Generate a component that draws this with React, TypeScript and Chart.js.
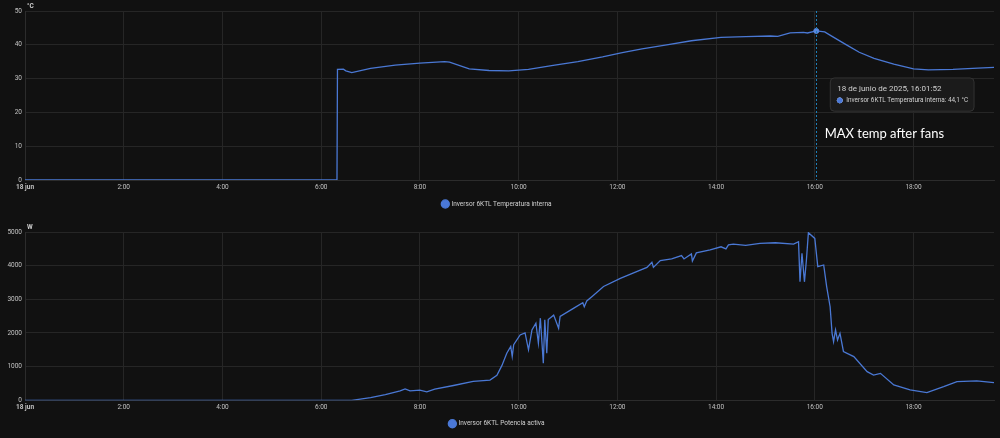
import React, { useEffect, useRef } from 'react';
import { Chart, registerables, Tooltip } from 'chart.js';

Chart.register(...registerables);

// ---------- data ----------
const tempHours = [0, 6.32, 6.33, 6.45, 6.5, 6.62, 7.0, 7.5, 8.0, 8.5, 8.6, 9.0, 9.4, 9.8, 10.2, 10.7, 11.2, 11.7, 12.1, 12.5, 13.0, 13.5, 14.1, 14.6, 15.1, 15.25, 15.5, 15.77, 15.85, 16.03, 16.2, 16.35, 16.65, 16.9, 17.2, 17.6, 18.0, 18.3, 18.8, 19.3, 19.63];
const tempValues = [0, 0, 32.7, 32.8, 32.3, 31.8, 33.0, 34.0, 34.6, 35.0, 34.9, 32.9, 32.4, 32.3, 32.7, 33.9, 35.0, 36.4, 37.7, 38.8, 40.0, 41.2, 42.2, 42.4, 42.6, 42.5, 43.5, 43.7, 43.5, 44.1, 43.8, 42.5, 39.9, 37.8, 36.0, 34.3, 32.9, 32.6, 32.7, 33.1, 33.3];

const powerHours = [0, 6.62, 7.0, 7.3, 7.6, 7.7, 7.8, 8.0, 8.14, 8.3, 8.68, 9.08, 9.42, 9.56, 9.66, 9.76, 9.84, 9.87, 9.9, 10.03, 10.13, 10.2, 10.27, 10.35, 10.4, 10.44, 10.5, 10.53, 10.57, 10.6, 10.71, 10.81, 10.84, 11.11, 11.3, 11.33, 11.38, 11.5, 11.72, 12.06, 12.39, 12.6, 12.7, 12.73, 12.87, 13.1, 13.3, 13.35, 13.5, 13.52, 13.6, 13.88, 14.1, 14.2, 14.25, 14.35, 14.6, 14.89, 15.2, 15.57, 15.67, 15.7, 15.74, 15.79, 15.83, 15.87, 16.0, 16.06, 16.18, 16.24, 16.31, 16.35, 16.38, 16.42, 16.46, 16.51, 16.58, 16.79, 17.06, 17.19, 17.33, 17.6, 17.93, 18.27, 18.61, 18.88, 19.28, 19.63];
const powerValues = [0, 0, 80, 170, 280, 340, 280, 300, 250, 330, 440, 560, 600, 740, 1030, 1400, 1600, 1300, 1650, 1940, 2000, 1500, 2090, 2290, 1700, 2440, 1100, 2390, 1400, 2400, 2530, 2140, 2490, 2730, 2900, 2780, 2950, 3100, 3380, 3620, 3820, 3950, 4100, 3950, 4150, 4200, 4300, 4200, 4350, 4140, 4380, 4470, 4560, 4500, 4620, 4640, 4600, 4660, 4680, 4640, 4710, 3520, 4370, 3520, 4170, 4980, 4810, 3970, 4020, 3380, 2780, 1990, 1740, 2090, 1790, 1990, 1450, 1300, 850, 750, 800, 455, 310, 230, 405, 555, 575, 525];

const xTickHours = [0, 2, 4, 6, 8, 10, 12, 14, 16, 18];
const firstTickLabel = '18 jun';
const tempLabel = 'Inversor 6KTL Temperatura interna';
const powerLabel = 'Inversor 6KTL Potencia activa';
const tooltipTitle = '18 de junio de 2025, 16:01:52';
const tooltipBody = 'Inversor 6KTL Temperatura interna: 44,1 °C';
const tooltipHour = 16.03;
const annotationText = 'MAX temp after fans';
const X_MAX = 19.63;

// ---------- style ----------
const FONT = 'Roboto, "Noto Sans", sans-serif';
const BG = '#111111';
const GRID = '#262626';
const LINE = '#4a78d4';
const TICK = '#c2c2c2';
const SMALL = 6.5;

(Tooltip.positioners as any).belowRight = function (elements: any[]) {
  if (!elements || !elements.length) return false;
  const el = elements[0].element;
  return { x: el.x + 18, y: el.y + 47 };
};

const unitPlugin = {
  id: 'unitLabel',
  afterDraw(chart: any, _args: any, opts: any) {
    if (!opts || !opts.text) return;
    const { ctx, chartArea } = chart;
    ctx.save();
    ctx.font = `bold ${SMALL}px ${FONT}`;
    ctx.fillStyle = '#d0d0d0';
    ctx.textAlign = 'left';
    ctx.textBaseline = 'middle';
    ctx.fillText(opts.text, chartArea.left + 2, chartArea.top - 5);
    ctx.restore();
  },
};

const crosshairPlugin = {
  id: 'crosshair',
  afterDatasetsDraw(chart: any) {
    const active = chart.tooltip ? chart.tooltip.getActiveElements() : [];
    if (!active.length) return;
    const x = active[0].element.x;
    const { ctx, chartArea } = chart;
    ctx.save();
    ctx.strokeStyle = '#1f7fb8';
    ctx.lineWidth = 1;
    ctx.setLineDash([2, 2]);
    ctx.beginPath();
    ctx.moveTo(Math.round(x) + 0.5, chartArea.top);
    ctx.lineTo(Math.round(x) + 0.5, chartArea.bottom);
    ctx.stroke();
    ctx.restore();
  },
};

const annotationPlugin = {
  id: 'noteText',
  afterDraw(chart: any, _args: any, opts: any) {
    if (!opts || !opts.text) return;
    const { ctx } = chart;
    const x = chart.scales.x.getPixelForValue(opts.hour);
    const y = chart.scales.y.getPixelForValue(opts.value);
    ctx.save();
    ctx.font = `13px Lato, "Open Sans", sans-serif`;
    ctx.fillStyle = '#ffffff';
    ctx.textAlign = 'left';
    ctx.textBaseline = 'alphabetic';
    ctx.fillText(opts.text, x, y);
    ctx.restore();
  },
};

function makeOptions(yMax: number, yStep: number, padTop: number, xHeight: number, legendPad: number, padBottom: number, unit: string, note: any, withTooltip: boolean) {
  return {
    animation: false,
    responsive: false,
    events: [],
    layout: { padding: { top: padTop, right: 6, left: 0, bottom: padBottom } },
    interaction: { mode: 'nearest', intersect: false },
    scales: {
      x: {
        type: 'linear',
        min: 0,
        max: X_MAX,
        afterBuildTicks(scale: any) {
          scale.ticks = xTickHours.map((v) => ({ value: v }));
        },
        afterFit(scale: any) {
          scale.height = xHeight;
        },
        ticks: {
          autoSkip: false,
          maxRotation: 0,
          color: TICK,
          padding: 3,
          font: (c: any) => ({ family: FONT, size: SMALL, weight: c.tick && c.tick.value === 0 ? 'bold' : 'normal' }),
          callback: (v: any) => (v === 0 ? firstTickLabel : `${v}:00`),
        },
        grid: { color: GRID, drawTicks: false },
        border: { color: '#2c2c2c' },
      },
      y: {
        min: 0,
        max: yMax,
        afterFit(scale: any) {
          scale.width = 25;
        },
        ticks: {
          stepSize: yStep,
          color: TICK,
          padding: 3,
          font: { family: FONT, size: SMALL },
          callback: (v: any) => String(v),
        },
        grid: { color: GRID, drawTicks: false },
        border: { color: '#2c2c2c' },
      },
    },
    plugins: {
      legend: {
        position: 'bottom',
        labels: {
          usePointStyle: true,
          pointStyle: 'circle',
          boxWidth: 5.7,
          boxHeight: 5.7,
          padding: legendPad,
          color: '#d0d0d0',
          font: { family: FONT, size: SMALL },
        },
      },
      tooltip: withTooltip
        ? {
            enabled: true,
            position: 'belowRight',
            xAlign: 'left',
            yAlign: 'top',
            caretSize: 0,
            caretPadding: 0,
            cornerRadius: 4,
            backgroundColor: 'rgba(28,28,28,0.97)',
            borderColor: '#333333',
            borderWidth: 1,
            padding: { left: 7, right: 6, top: 6, bottom: 7 },
            titleColor: '#d0d0d0',
            bodyColor: '#d0d0d0',
            titleFont: { family: FONT, size: 8, weight: 'normal' },
            bodyFont: { family: FONT, size: 6.4 },
            titleMarginBottom: 3,
            usePointStyle: true,
            boxWidth: 5,
            boxHeight: 5,
            boxPadding: 2,
            callbacks: {
              title: () => tooltipTitle,
              label: () => tooltipBody,
              labelColor: () => ({ borderColor: '#4a78d8', backgroundColor: '#4a78d8' }),
              labelPointStyle: () => ({ pointStyle: 'circle', rotation: 0 }),
            },
          }
        : { enabled: false },
      unitLabel: { text: unit },
      noteText: note,
    },
  } as any;
}

function buildPoints(xs: number[], ys: number[]) {
  return xs.map((x, i) => ({ x, y: ys[i] }));
}

function dataset(label: string, xs: number[], ys: number[]) {
  return {
    label,
    data: buildPoints(xs, ys),
    borderColor: LINE,
    backgroundColor: '#4a78d8',
    borderWidth: 1.3,
    pointRadius: 0,
    pointHoverRadius: 2.5,
    pointHoverBackgroundColor: '#5a88e0',
    pointHoverBorderColor: '#5a88e0',
    tension: 0,
    fill: false,
  };
}

export default function App() {
  const topRef = useRef<HTMLCanvasElement>(null);
  const botRef = useRef<HTMLCanvasElement>(null);

  useEffect(() => {
    const top = new Chart(topRef.current as HTMLCanvasElement, {
      type: 'line',
      data: { datasets: [dataset(tempLabel, tempHours, tempValues)] },
      options: makeOptions(50, 10, 11, 11, 9.75, 0.75, '°C', { text: annotationText, hour: 16.2, value: 12.5 }, true),
      plugins: [unitPlugin, crosshairPlugin, annotationPlugin],
    } as any);
    const idx = tempHours.indexOf(tooltipHour);
    top.setActiveElements([{ datasetIndex: 0, index: idx }]);
    top.tooltip!.setActiveElements([{ datasetIndex: 0, index: idx }], { x: 0, y: 0 });
    top.update();

    const bot = new Chart(botRef.current as HTMLCanvasElement, {
      type: 'line',
      data: { datasets: [dataset(powerLabel, powerHours, powerValues)] },
      options: makeOptions(5000, 1000, 14, 11, 9.15, 1.05, 'W', null, false),
      plugins: [unitPlugin],
    } as any);

    return () => {
      top.destroy();
      bot.destroy();
    };
  }, []);

  return (
    <div style={{ position: 'fixed', left: 0, top: 0, width: 1000, height: 438, background: BG, overflow: 'hidden' }}>
      <canvas ref={topRef} width={1000} height={218} style={{ display: 'block', width: 1000, height: 218 }} />
      <canvas ref={botRef} width={1000} height={220} style={{ display: 'block', width: 1000, height: 220 }} />
    </div>
  );
}
